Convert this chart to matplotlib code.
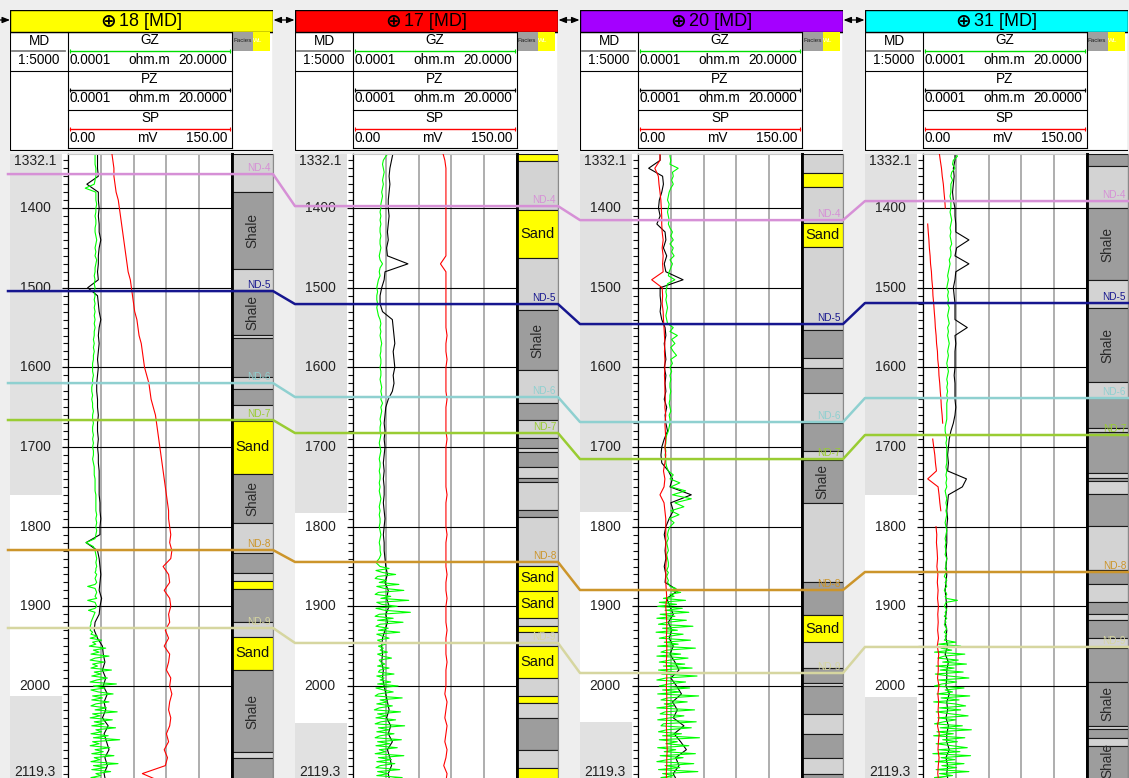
import numpy as np
import matplotlib
matplotlib.use("Agg")
import matplotlib.pyplot as plt
from matplotlib.patches import Rectangle
from matplotlib.ticker import MultipleLocator, FixedLocator

plt.rcParams['font.family'] = ['Liberation Sans', 'DejaVu Sans']

# ---------------------------------------------------------------- data
WELLS = ['18', '17', '20', '31']
TITLE_COLORS = ['#ffff00', '#ff0000', '#a400ff', '#00ffff']

TOP_DEPTH, BASE_DEPTH = 1332.1, 2119.3
DEPTH_10 = np.arange(1330, 2121, 10)          # PZ / SP sample depths (m)
DEPTH_GZ_UPPER = np.arange(1330, 1846, 5)     # GZ, 5 m steps
DEPTH_GZ_LOWER = np.arange(1850, 2120.1, 2.5) # GZ, 2.5 m steps

TOP_NAMES = ['ND-4', 'ND-5', 'ND-6', 'ND-7', 'ND-8', 'ND-9']
TOP_COLORS = ['#d690d6', '#16168f', '#8fd0d0', '#99cc33', '#cc952b', '#d6d6a0']
TOPS_18 = [1357.3, 1504.2, 1619.7, 1666.1, 1829.3, 1927.2]
TOPS_17 = [1397.5, 1520.5, 1637.2, 1682.4, 1844.3, 1946.0]
TOPS_20 = [1415.1, 1545.6, 1668.6, 1715.1, 1879.5, 1983.7]
TOPS_31 = [1391.2, 1519.2, 1638.5, 1684.9, 1856.9, 1951.0]

# grey depth-track intervals (top, base)
MD_SHADE_18 = [(1332.1, 1760.0), (2012.5, 2119.3)]
MD_SHADE_17 = [(1332.1, 1783.0), (2046.0, 2119.3)]
MD_SHADE_20 = [(1332.1, 1782.0), (2045.0, 2119.3)]
MD_SHADE_31 = [(1332.1, 1760.0), (2014.0, 2119.3)]

# GZ resistivity (ohm.m): upper interval 1330-1845 m
GZ_18_UPPER = [3.3, 3.3, 3.3, 3.3, 3.4, 3.4, 3.4, 3.3, 3.2, 2.1,
               3.4, 3.4, 3.4, 3.5, 3.4, 3.4, 3.3, 3.4, 3.4, 3.3,
               3.3, 3.4, 3.5, 3.4, 3.3, 3.4, 3.3, 3.5, 3.4, 3.3,
               3.3, 3.2, 3.3, 3.2, 3.3, 3.2, 3.3, 3.2, 3.3, 3.2,
               3.3, 3.2, 3.3, 3.2, 3.3, 3.2, 3.2, 3.1, 3.2, 3.1,
               3.2, 3.1, 3.1, 3.0, 3.0, 3.0, 3.1, 3.0, 3.0, 2.9,
               2.9, 3.0, 2.9, 3.0, 3.0, 3.1, 3.0, 3.0, 3.1, 3.0,
               3.0, 3.1, 3.0, 3.1, 3.0, 3.1, 3.1, 3.0, 3.1, 3.2,
               3.2, 3.2, 3.3, 3.3, 3.3, 3.3, 3.4, 3.4, 3.4, 3.4,
               3.4, 3.5, 3.4, 3.5, 3.4, 3.5, 3.4, 3.3, 2.2, 3.1,
               3.3, 3.4, 3.5, 3.4]
GZ_17_UPPER = [4.4, 4.0, 3.7, 3.6, 3.7, 3.8, 3.7, 3.6, 3.7, 3.6,
               3.5, 3.6, 3.5, 3.4, 3.4, 3.3, 3.4, 3.3, 3.4, 3.3,
               3.3, 3.4, 3.3, 3.3, 3.4, 3.3, 3.2, 3.3, 3.6, 3.3,
               3.2, 3.3, 3.1, 3.0, 2.9, 3.0, 2.9, 2.9, 3.0, 2.9,
               3.0, 3.1, 3.3, 3.4, 3.3, 3.4, 3.3, 3.4, 3.5, 3.4,
               3.4, 3.3, 3.4, 3.4, 3.3, 3.4, 3.4, 3.3, 3.4, 3.5,
               3.4, 3.5, 3.4, 3.6, 3.4, 3.5, 3.4, 3.3, 3.4, 3.3,
               3.3, 3.4, 3.3, 3.2, 3.3, 3.4, 3.3, 3.2, 3.3, 3.3,
               3.2, 3.3, 3.3, 3.2, 3.3, 3.2, 3.3, 3.4, 3.3, 3.2,
               3.3, 3.2, 3.3, 3.3, 3.2, 3.3, 3.4, 3.3, 3.2, 3.3,
               3.3, 3.4, 3.2, 2.8]
GZ_20_UPPER = [3.9, 3.9, 4.0, 3.9, 4.9, 4.2, 4.3, 4.1, 4.3, 4.0,
               3.8, 3.7, 3.6, 3.8, 3.7, 3.6, 3.7, 3.8, 3.7, 3.9,
               4.2, 4.0, 4.3, 3.9, 4.3, 4.1, 4.4, 3.9, 4.2, 4.0,
               3.8, 3.7, 4.5, 3.6, 3.5, 3.4, 3.5, 3.4, 3.5, 3.6,
               3.5, 3.4, 3.5, 3.6, 4.3, 3.9, 4.8, 4.1, 4.5, 4.0,
               4.3, 4.7, 4.0, 4.2, 3.9, 4.1, 3.9, 4.0, 3.9, 3.9,
               4.0, 3.9, 3.9, 3.8, 3.9, 4.0, 3.8, 3.9, 3.9, 3.8,
               3.7, 3.5, 3.4, 3.4, 3.3, 3.4, 3.3, 3.4, 3.4, 3.5,
               3.7, 4.3, 3.9, 5.1, 4.0, 5.8, 4.2, 6.5, 4.5, 5.6,
               4.0, 5.0, 3.8, 4.4, 3.9, 3.7, 3.6, 3.7, 3.5, 3.6,
               3.7, 3.5, 3.6, 3.7]
GZ_31_UPPER = [3.9, 4.2, 3.7, 3.6, 3.9, 3.5, 3.4, 3.6, 3.4, 3.4,
               3.4, 3.3, 3.4, 3.4, 3.4, 3.3, 3.4, 3.5, 3.4, 3.3,
               3.4, 3.3, 3.4, 3.5, 3.3, 3.4, 3.4, 3.2, 3.3, 3.2,
               3.1, 3.0, 3.1, 3.0, 2.9, 3.1, 3.0, 3.1, 3.0, 3.2,
               3.1, 3.0, 3.1, 3.2, 3.0, 3.1, 3.0, 3.1, 3.2, 3.1,
               3.0, 3.1, 3.0, 2.9, 3.0, 3.1, 3.0, 2.9, 3.0, 2.9,
               3.0, 2.9, 3.0, 2.9, 2.9, 2.9, 2.9, 2.9, 2.8, 2.7,
               2.7, 2.8, 2.9, 2.8, 2.9, 2.9, 2.9, 2.9, 2.9, 2.8,
               2.9, 2.8, 2.9, 2.8, 2.9, 2.7, 2.8, 2.9, 2.8, 2.9,
               2.8, 2.9, 2.8, 2.7, 2.8, 2.9, 2.8, 2.7, 2.8, 2.7,
               2.8, 2.7, 2.9, 2.8]

# GZ resistivity (ohm.m): lower interval 1850-2120 m
GZ_18_LOWER = [3.5, 3.4, 3.4, 3.3, 3.5, 3.4, 3.3, 3.4, 3.5, 3.3,
               2.4, 3.3, 3.4, 3.5, 3.4, 3.3, 3.5, 2.4, 3.3, 3.4,
               3.5, 3.3, 2.5, 3.3, 3.2, 3.1, 3.0, 2.9, 2.8, 2.8,
               2.7, 2.8, 2.7, 3.0, 2.8, 3.6, 2.7, 4.1, 3.0, 3.4,
               2.6, 4.6, 3.1, 3.8, 2.8, 5.0, 3.3, 2.7, 4.4, 3.0,
               3.6, 2.8, 5.3, 3.2, 4.0, 2.9, 4.8, 3.5, 2.7, 5.9,
               3.1, 4.5, 2.8, 3.7, 5.5, 3.0, 4.2, 2.9, 5.0, 3.4,
               2.8, 4.7, 3.3, 6.0, 3.0, 3.9, 2.7, 5.4, 3.2, 4.4,
               2.9, 5.8, 3.4, 4.1, 2.8, 4.9, 3.1, 6.3, 3.0, 3.8,
               2.7, 5.1, 3.3, 4.3, 2.9, 5.6, 3.2, 3.9, 2.8, 6.1,
               3.1, 4.6, 2.9, 5.2, 3.4, 4.0, 2.8, 5.5, 3.2]
GZ_17_LOWER = [3.3, 4.4, 2.8, 3.6, 5.2, 3.0, 2.7, 4.1, 3.2, 5.6,
               2.9, 3.8, 6.2, 3.1, 2.7, 4.6, 3.4, 6.8, 2.9, 3.5,
               5.4, 2.8, 3.9, 7.0, 3.2, 2.7, 4.9, 3.0, 6.1, 3.3,
               2.8, 4.3, 3.1, 5.7, 2.9, 3.6, 4.4, 3.0, 3.5, 4.0,
               3.1, 3.7, 3.3, 4.2, 3.0, 3.6, 4.7, 3.2, 3.4, 3.9,
               3.0, 4.4, 3.3, 3.1, 5.0, 2.9, 3.8, 3.3, 4.6, 3.0,
               5.5, 2.8, 3.7, 4.9, 3.1, 2.7, 6.0, 3.3, 4.2, 2.9,
               4.8, 3.2, 2.6, 5.8, 3.0, 4.1, 2.8, 5.2, 3.4, 2.7,
               6.3, 3.1, 4.4, 2.9, 5.0, 3.3, 2.7, 5.9, 3.0, 4.5,
               2.8, 5.4, 3.2, 4.0, 2.7, 6.2, 3.1, 4.7, 2.9, 5.1,
               3.3, 2.8, 5.7, 3.0, 4.3, 2.9, 6.0, 3.2, 4.8]
GZ_20_LOWER = [3.7, 3.6, 3.5, 3.7, 3.6, 3.5, 3.6, 3.7, 3.6, 3.8,
               3.9, 4.6, 3.8, 5.2, 3.9, 4.4, 3.1, 5.8, 2.6, 4.7,
               2.4, 5.4, 3.3, 6.2, 2.7, 4.5, 2.3, 5.9, 3.6, 2.5,
               6.7, 3.0, 4.8, 2.2, 5.5, 3.8, 2.6, 6.4, 3.2, 4.9,
               2.4, 7.0, 3.5, 2.8, 5.2, 2.3, 6.1, 3.9, 2.6, 5.7,
               3.1, 6.6, 2.5, 4.6, 2.9, 7.2, 3.4, 2.3, 5.8, 3.7,
               2.6, 6.3, 3.0, 5.1, 2.4, 7.4, 3.6, 2.8, 6.0, 3.2,
               4.4, 2.3, 6.9, 3.3, 2.7, 5.6, 3.9, 2.4, 7.1, 3.1,
               2.8, 6.5, 3.5, 2.5, 5.3, 3.0, 7.5, 2.6, 4.8, 3.4,
               6.2, 2.4, 4.6, 3.2, 7.0, 2.7, 5.5, 3.6, 2.3, 6.8,
               3.3, 5.1, 2.5, 7.3, 3.0, 4.4, 2.8, 6.6, 3.5]
GZ_31_LOWER = [2.8, 2.7, 2.9, 2.8, 2.7, 2.6, 2.8, 2.9, 2.7, 2.8,
               2.9, 2.7, 2.6, 2.8, 2.9, 2.7, 2.8, 4.2, 2.8, 2.7,
               2.6, 2.8, 2.9, 2.7, 2.8, 2.6, 2.9, 2.7, 2.8, 2.6,
               2.7, 2.9, 2.8, 2.6, 2.9, 2.7, 2.8, 2.6, 4.0, 1.9,
               4.6, 2.2, 3.5, 1.4, 5.1, 2.6, 1.8, 4.3, 2.4, 5.3,
               1.6, 3.8, 2.1, 4.9, 1.5, 3.2, 5.6, 1.9, 4.1, 2.3,
               1.4, 5.0, 2.7, 3.6, 1.7, 5.7, 2.2, 4.4, 1.3, 3.9,
               5.2, 2.0, 4.6, 1.6, 3.4, 5.5, 1.8, 4.0, 2.5, 1.4,
               4.8, 2.1, 5.9, 1.7, 3.7, 1.3, 5.1, 2.4, 4.2, 1.6,
               3.5, 5.4, 1.9, 4.5, 1.2, 5.8, 2.2, 3.9, 1.5, 5.0,
               2.3, 4.1, 1.6, 5.6, 2.0, 3.6, 1.4, 4.9, 2.6]

# PZ resistivity (ohm.m), 10 m steps
PZ_18 = [3.6, 3.6, 3.6, 3.7, 2.3, 3.7, 3.7, 3.8, 3.7, 3.8,
         3.8, 4.0, 3.8, 3.7, 3.7, 3.6, 3.7, 2.4, 3.6, 3.7,
         3.8, 4.0, 3.8, 3.7, 3.8, 3.7, 3.6, 3.7, 3.6, 3.5,
         3.5, 3.6, 3.6, 3.7, 3.6, 3.6, 3.7, 3.6, 3.7, 3.7,
         3.8, 3.8, 3.8, 3.8, 3.9, 3.9, 4.0, 3.9, 3.9, 2.2,
         3.6, 3.8, 3.9, 4.0, 3.9, 3.8, 4.1, 3.9, 3.8, 3.3,
         3.2, 3.6, 4.2, 4.3, 4.5, 4.2, 4.6, 4.3, 4.8, 4.4,
         4.6, 4.2, 4.9, 4.4, 4.7, 5.0, 4.5, 4.8, 4.4, 4.6]
PZ_17 = [4.9, 4.7, 4.5, 4.4, 4.5, 4.4, 4.3, 4.3, 4.4, 4.3,
         4.2, 4.3, 4.1, 4.2, 6.7, 3.9, 3.8, 3.5, 3.3, 3.3,
         3.6, 4.8, 4.9, 5.0, 5.1, 4.9, 5.0, 5.1, 4.9, 5.0,
         4.8, 4.3, 4.0, 3.9, 3.8, 3.9, 3.8, 3.9, 3.8, 3.7,
         3.8, 3.7, 3.8, 3.8, 3.7, 3.8, 3.9, 3.8, 3.7, 3.8,
         3.8, 3.9, 4.0, 4.2, 3.9, 4.3, 4.1, 4.4, 4.0, 4.2,
         3.9, 3.6, 3.5, 3.6, 3.5, 3.7, 3.6, 3.8, 4.0, 4.2,
         4.4, 4.1, 4.6, 4.3, 4.8, 4.2, 4.5, 4.7, 4.3, 4.5]
PZ_20 = [2.7, 2.7, 1.3, 3.0, 3.1, 2.9, 2.6, 2.5, 2.7, 2.3,
         3.3, 3.4, 3.1, 3.5, 3.2, 3.4, 5.5, 2.7, 2.7, 2.8,
         2.7, 2.9, 3.3, 3.4, 3.2, 3.3, 3.4, 3.2, 3.4, 3.3,
         3.4, 3.2, 3.5, 3.3, 3.4, 3.6, 3.2, 2.9, 2.8, 2.9,
         3.7, 4.2, 3.9, 6.5, 4.0, 4.3, 3.8, 3.4, 3.2, 3.4,
         3.3, 3.4, 3.2, 3.4, 3.3, 4.9, 3.5, 3.9, 4.3, 3.7,
         4.1, 3.8, 4.3, 3.9, 4.5, 5.0, 4.0, 4.7, 5.3, 4.2,
         4.8, 4.3, 5.6, 4.4, 5.2, 5.9, 4.6, 5.0, 4.3, 4.8]
PZ_31 = [3.9, 3.9, 3.7, 3.8, 3.7, 3.6, 3.7, 3.9, 3.9, 4.0,
         4.0, 5.6, 4.1, 3.9, 5.6, 4.0, 3.9, 3.7, 3.8, 3.9,
         3.9, 3.9, 5.4, 3.9, 4.0, 3.9, 3.9, 3.9, 3.8, 3.9,
         3.9, 3.9, 4.0, 3.9, 3.7, 3.4, 3.2, 3.1, 3.0, 3.1,
         3.0, 5.3, 4.8, 3.1, 3.0, 2.9, 3.0, 2.9, 2.9, 2.9,
         2.8, 2.9, 2.8, 2.9, 2.8, 2.7, 2.8, 2.9, 2.8, 2.7,
         2.9, 2.8, 3.0, 2.7, 3.1, 2.9, 2.9, 2.8, 3.2, 2.9,
         3.0, 2.8, 3.1, 2.9, 2.9, 3.2, 2.8, 3.0, 2.9, 3.1]

# SP (mV), 10 m steps; nan marks a break in the log
nan = float('nan')
SP_18 = [40, 41, 42, 42, 43, 44, 46, 47, 48, 49,
         50, 51, 52, 53, 54, 55, 57, 58, 59, 60,
         61, 63, 64, 65, 67, 68, 69, 70, 72, 74,
         75, 76, 78, 80, 81, 82, 83, 84, 85, 86,
         87, 88, 89, 90, 91, 92, 92, 93, 94, 93,
         95, 94, 87, 92, 93, 88, 93, 94, 92, 93,
         89, 92, 88, 93, 92, 90, 94, 93, 95, 93,
         92, 94, 93, 90, 92, 88, 91, 89, 68, 85]
SP_17 = [82, 84, 85, 85, 85, 85, 85, 85, 85, 85,
         85, 85, 85, 85, 80, 85, 85, 85, 85, 85,
         85, 85, 85, 86, 85, 85, 86, 85, 85, 85,
         85, 86, 85, 85, 85, 85, 86, 85, 85, 85,
         85, 85, 85, 86, 85, 85, 85, 85, 86, 85,
         85, 85, 85, 86, 85, 85, 86, 85, 85, 85,
         86, 85, 85, 85, 86, 85, 85, 85, 84, 86,
         85, 84, 86, 85, 84, 86, 85, 83, 86, 85]
SP_20 = [20.1, 20.1, 15.4, 18.6, 19.2, 20.1, 20.9, 21.3, 21.7, 21.7,
         22.1, 23.0, 22.1, 23.0, 22.5, 23.0, 12.5, 22.1, 22.5, 22.1,
         23.0, 23.3, 23.8, 24.2, 24.6, 24.2, 24.6, 24.6, 24.2, 24.6,
         24.6, 25.0, 24.6, 25.4, 24.6, 25.0, 25.4, 24.6, 25.4, 24.6,
         23.3, 24.6, 23.8, 20.1, 23.8, 24.6, 25.4, 25.4, 25.4, 25.4,
         25.4, 25.9, 25.4, 25.4, 25.4, 25.9, 26.3, 25.4, 25.9, 26.3,
         26.3, 25.9, 26.3, 26.3, 25.9, 26.3, 26.3, 25.9, 26.3, 26.3,
         26.3, 26.3, 25.9, 26.3, 26.3, 26.7, 26.3, 26.3, 25.9, 26.3]
SP_31 = [14.8, 15.8, 16.9, 17.6, 18.6, 19.2, 19.9, 20.4, nan, 4.3,
         4.8, 5.4, 5.8, 6.5, 6.9, 7.7, 8.1, 8.8, 9.1, 9.8,
         10.3, 10.9, 11.3, 12.0, 12.4, 13.2, 13.5, 14.3, 14.6, 15.3,
         15.8, 16.4, 16.8, 17.5, 18.0, nan, 8.9, 9.8, 10.8, 11.4,
         12.3, 4.3, 13.8, 14.7, 15.4, 16.3, nan, 11.9, 12.6, 12.3,
         12.9, 13.3, 12.7, 13.6, 13.1, 13.8, 13.3, 14.1, 13.5, 13.9,
         13.4, 14.2, 13.0, 14.4, 13.8, 14.0, 13.3, 14.6, 13.6, 14.3,
         13.8, 14.5, 13.3, 14.8, 14.1, 13.7, 14.7, 14.0, 13.5, 14.4]

# facies intervals: (top, base, class, label); L = silty shale, D = shale, S = sand
FACIES_18 = [
    (1332.1, 1380, 'L', ''), (1380, 1477, 'D', 'Shale'), (1477, 1503, 'L', ''),
    (1503, 1559, 'D', 'Shale'), (1559, 1563, 'L', ''), (1563, 1612, 'D', ''),
    (1612, 1627, 'L', ''), (1627, 1647, 'D', ''), (1647, 1667, 'L', ''),
    (1667, 1734, 'S', 'Sand'), (1734, 1795, 'D', 'Shale'), (1795, 1833, 'L', ''),
    (1833, 1858, 'D', ''), (1858, 1868, 'L', ''), (1868, 1878, 'S', ''),
    (1878, 1920, 'D', ''), (1920, 1938, 'L', ''), (1938, 1980, 'S', 'Sand'),
    (1980, 2083, 'D', 'Shale'), (2083, 2090, 'L', ''), (2090, 2119.3, 'D', '')]
FACIES_17 = [
    (1332.1, 1341, 'S', ''), (1341, 1402.5, 'L', ''), (1402.5, 1462.8, 'S', 'Sand'),
    (1462.8, 1528, 'L', ''), (1528, 1603.3, 'D', 'Shale'), (1603.3, 1644.8, 'L', ''),
    (1644.8, 1666.1, 'D', ''), (1666.1, 1688.7, 'L', ''), (1688.7, 1701.2, 'D', ''),
    (1701.2, 1706.3, 'L', ''), (1706.3, 1725.1, 'D', ''), (1725.1, 1738.9, 'L', ''),
    (1738.9, 1743.9, 'D', ''), (1743.9, 1779.1, 'L', ''), (1779.1, 1787.9, 'D', ''),
    (1787.9, 1849.4, 'L', ''), (1849.4, 1880.7, 'S', 'Sand'), (1880.7, 1914.6, 'S', 'Sand'),
    (1914.6, 1924.7, 'L', ''), (1924.7, 1932.2, 'S', ''), (1932.2, 1949.8, 'L', ''),
    (1949.8, 1989.9, 'S', 'Sand'), (1989.9, 2012.5, 'L', ''), (2012.5, 2021.3, 'S', ''),
    (2021.3, 2040.1, 'L', ''), (2040.1, 2080.3, 'D', ''), (2080.3, 2102.9, 'L', ''),
    (2102.9, 2119.3, 'S', '')]
FACIES_20 = [
    (1332.1, 1356.1, 'L', ''), (1356.1, 1373.6, 'S', ''), (1373.6, 1418.8, 'L', ''),
    (1418.8, 1449, 'S', 'Sand'), (1449, 1553.1, 'L', ''), (1553.1, 1588.3, 'D', ''),
    (1588.3, 1600.8, 'L', ''), (1600.8, 1632.2, 'D', ''), (1632.2, 1669.9, 'L', ''),
    (1669.9, 1705, 'D', ''), (1705, 1716.3, 'L', ''), (1716.3, 1770.3, 'D', 'Shale'),
    (1770.3, 1869.4, 'L', ''), (1869.4, 1910.9, 'D', ''), (1910.9, 1944.8, 'S', 'Sand'),
    (1944.8, 1977.4, 'L', ''), (1977.4, 1996.2, 'D', ''), (1996.2, 2000, 'L', ''),
    (2000, 2035.1, 'D', ''), (2035.1, 2060.2, 'L', ''), (2060.2, 2090.4, 'D', ''),
    (2090.4, 2110.5, 'L', ''), (2110.5, 2119.3, 'D', '')]
FACIES_31 = [
    (1332.1, 1347.3, 'D', ''), (1347.3, 1400, 'L', ''), (1400, 1490.4, 'D', 'Shale'),
    (1490.4, 1525.5, 'L', ''), (1525.5, 1618.4, 'D', 'Shale'), (1618.4, 1638.5, 'L', ''),
    (1638.5, 1676.1, 'D', ''), (1676.1, 1681.2, 'L', ''), (1681.2, 1732.6, 'D', ''),
    (1732.6, 1738.9, 'L', ''), (1738.9, 1742.7, 'D', ''), (1742.7, 1759, 'L', ''),
    (1759, 1799.2, 'D', ''), (1799.2, 1854.4, 'L', ''), (1854.4, 1872, 'D', ''),
    (1872, 1894.5, 'L', ''), (1894.5, 1909.6, 'D', ''), (1909.6, 1917.1, 'L', ''),
    (1917.1, 1939.7, 'D', ''), (1939.7, 1952.3, 'L', ''), (1952.3, 1995, 'D', ''),
    (1995, 2050.2, 'D', 'Shale'), (2050.2, 2054, 'L', ''), (2054, 2065.3, 'D', ''),
    (2065.3, 2075.3, 'L', ''), (2075.3, 2119.3, 'D', 'Shale')]

GZ_UPPER = [GZ_18_UPPER, GZ_17_UPPER, GZ_20_UPPER, GZ_31_UPPER]
GZ_LOWER = [GZ_18_LOWER, GZ_17_LOWER, GZ_20_LOWER, GZ_31_LOWER]
PZ = [PZ_18, PZ_17, PZ_20, PZ_31]
SP = [SP_18, SP_17, SP_20, SP_31]
TOPS = [TOPS_18, TOPS_17, TOPS_20, TOPS_31]
FACIES = [FACIES_18, FACIES_17, FACIES_20, FACIES_31]
MD_SHADE = [MD_SHADE_18, MD_SHADE_17, MD_SHADE_20, MD_SHADE_31]

for arr in GZ_UPPER:
    assert len(arr) == len(DEPTH_GZ_UPPER), len(arr)
for arr in GZ_LOWER:
    assert len(arr) == len(DEPTH_GZ_LOWER), len(arr)
for arr in PZ + SP:
    assert len(arr) == len(DEPTH_10), len(arr)
GZ_DEPTH = np.concatenate([DEPTH_GZ_UPPER, DEPTH_GZ_LOWER])

# ---------------------------------------------------------------- layout (pixels)
W, H = 1129, 778
BG = '#eeeeee'
WELL_X = [10, 295, 580, 865]
MD_W, CURVE_W, FAC_W = 58, 164, 41
WELL_W = MD_W + CURVE_W + FAC_W
TRACK_TOP, TRACK_BOT = 154, 781
FACIES_COLORS = {'L': '#d3d3d3', 'D': '#9d9d9d', 'S': '#ffff00'}
GZ_RANGE = (0.0001, 20.0)
SP_RANGE = (0.0, 150.0)
HDR_FS = 9.8

fig = plt.figure(figsize=(W / 100, H / 100), dpi=100, facecolor=BG)


def px_axes(x0, y0, x1, y1, **kw):
    return fig.add_axes((x0 / W, 1 - y1 / H, (x1 - x0) / W, (y1 - y0) / H), **kw)


def depth_axes(ax):
    ax.set_ylim(BASE_DEPTH, TOP_DEPTH)
    ax.set_xticks([])
    ax.set_yticks([])


def draw_header(x0, name, color):
    hx = px_axes(x0, 10, x0 + WELL_W, 151)
    hx.set_xlim(0, WELL_W)
    hx.set_ylim(141, 0)
    hx.axis('off')
    hx.add_patch(Rectangle((0, 22), WELL_W, 118, fc='white', ec='black', lw=0.8))
    hx.add_patch(Rectangle((0, 0), WELL_W, 22, fc=color, ec='black', lw=1.0))
    hx.text(98.5, 11.5, '\u2295', family='DejaVu Sans', fontsize=13.5, fontweight='bold',
            ha='center', va='center')
    hx.text(109, 12, f'{name} [MD]', fontsize=13, ha='left', va='center')
    # depth column
    hx.text(29, 31, 'MD', fontsize=HDR_FS, ha='center', va='center')
    hx.plot([2, 55], [41, 41], color='#7f7f7f', lw=1.3)
    hx.text(29, 50, '1:5000', fontsize=HDR_FS, ha='center', va='center')
    hx.plot([0, MD_W], [60.5, 60.5], color='black', lw=0.8)
    # curve header boxes
    c0, c1 = MD_W, MD_W + CURVE_W
    hx.plot([c0, c0], [22, 138], color='black', lw=0.8)
    hx.plot([c1, c1], [22, 138], color='black', lw=0.8)
    for yy in (60.5, 100, 138):
        hx.plot([c0, c1], [yy, yy], color='black', lw=0.8)
    rows = [('GZ', '#00dd00', 22, ('0.0001', 'ohm.m', '20.0000')),
            ('PZ', 'black', 60.5, ('0.0001', 'ohm.m', '20.0000')),
            ('SP', '#ff0000', 100, ('0.00', 'mV', '150.00'))]
    for label, col, ytop, (lo, unit, hi) in rows:
        hx.text(140, ytop + 8.5, label, fontsize=HDR_FS, ha='center', va='center')
        hx.plot([c0 + 1.5, c1 - 2.5], [ytop + 19, ytop + 19], color=col, lw=1.0)
        hx.plot([c0 + 1.5, c1 - 2.5], [ytop + 19, ytop + 19], ls='none', marker='|',
                ms=3, mew=0.8, color=col)
        hx.text(c0 + 1.5, ytop + 28, lo, fontsize=HDR_FS, ha='left', va='center')
        hx.text(139 if unit == 'ohm.m' else 137, ytop + 28, unit, fontsize=HDR_FS,
                ha='center', va='center')
        hx.text(c1 - 5, ytop + 28, hi, fontsize=HDR_FS, ha='right', va='center')
    # facies header
    hx.add_patch(Rectangle((c1, 22), 20.5, 18.5, fc='#a0a0a0', ec='none'))
    hx.add_patch(Rectangle((c1 + 20.5, 22), 17.5, 18.5, fc='#ffff00', ec='none'))
    hx.text(c1 + 1, 31, 'Facies', fontsize=4.5, ha='left', va='center', color='#222222')
    hx.text(c1 + 21, 31, 'WL', fontsize=4.5, ha='left', va='center', color='white')


for i, name in enumerate(WELLS):
    x0 = WELL_X[i]
    xc = x0 + MD_W
    xf = xc + CURVE_W
    xe = xf + FAC_W
    draw_header(x0, name, TITLE_COLORS[i])

    # ---- depth track
    dx = px_axes(x0, TRACK_TOP, xc, TRACK_BOT, facecolor='white')
    depth_axes(dx)
    dx.set_xlim(0, 1)
    for top, base in MD_SHADE[i]:
        dx.axhspan(top, base, xmin=0, xmax=0.9, color='#e1e1e1', lw=0)
    dx.yaxis.set_major_locator(FixedLocator(list(range(1400, 2001, 100))))
    dx.yaxis.set_minor_locator(MultipleLocator(10))
    dx.yaxis.tick_right()
    dx.tick_params(axis='y', which='major', direction='in', length=4.6, width=0.9,
                   labelright=False, color='black')
    dx.tick_params(axis='y', which='minor', direction='in', length=3.8, width=0.8,
                   color='#111111')
    for side in ('left', 'top', 'bottom'):
        dx.spines[side].set_visible(False)
    dx.spines['right'].set_linewidth(0.8)
    for d in range(1400, 2001, 100):
        dx.text(0.43, d, str(d), fontsize=10, ha='center', va='center', color='#222222')
    dx.text(0.43, 1341, f'{TOP_DEPTH:.1f}', fontsize=10, ha='center', va='center',
            color='#222222')
    dx.text(0.43, 2108, f'{BASE_DEPTH:.1f}', fontsize=10, ha='center', va='center',
            color='#222222')

    # ---- log curves
    cx = px_axes(xc, TRACK_TOP, xf, TRACK_BOT, facecolor='white')
    cx.set_ylim(BASE_DEPTH, TOP_DEPTH)
    cx.set_xlim(*GZ_RANGE)
    cx.set_xticks([4, 8, 12, 16])
    cx.set_yticks(list(range(1400, 2001, 100)))
    cx.tick_params(length=0, labelbottom=False, labelleft=False)
    cx.grid(axis='x', color='#a8a8a8', lw=1.3)
    cx.grid(axis='y', color='black', lw=0.8)
    cx.set_axisbelow(True)
    cx.spines['top'].set_color('#c8c8c8')
    cx.spines['bottom'].set_visible(False)
    cx.spines['left'].set_linewidth(0.9)
    cx.spines['right'].set_linewidth(2.0)
    cx.plot(PZ[i], DEPTH_10, color='black', lw=0.8)
    cx.plot(GZ_UPPER[i] + GZ_LOWER[i], GZ_DEPTH, color='#00ff00', lw=0.8)
    sx = cx.twiny()
    sx.set_xlim(*SP_RANGE)
    sx.set_ylim(BASE_DEPTH, TOP_DEPTH)
    sx.axis('off')
    sx.plot(SP[i], DEPTH_10, color='#ff0000', lw=0.8)

    # ---- facies column
    fx = px_axes(xf, TRACK_TOP, xe, TRACK_BOT, facecolor='white')
    depth_axes(fx)
    fx.set_xlim(0, 1)
    for top, base, cls, label in FACIES[i]:
        fx.bar(0.5, base - top, bottom=top, width=1.0, color=FACIES_COLORS[cls],
               edgecolor='#1a1a1a', lw=0.8)
        mid = 0.5 * (top + base)
        if label == 'Shale':
            # keep the lowest label inside the visible part of the column
            mid = min(mid, 2094)
            fx.text(0.5, mid, 'Shale', rotation=90, fontsize=9.8, ha='center',
                    va='center', color='#2a2a2a')
        elif label == 'Sand':
            fx.text(0.5, mid, 'Sand', fontsize=10.5, ha='center', va='center',
                    color='#111111')
    fx.spines['left'].set_linewidth(2.0)
    fx.spines['right'].set_color('#8a8a8a')
    fx.spines['top'].set_visible(False)
    fx.spines['bottom'].set_visible(False)

# ---------------------------------------------------------------- correlation of tops
ox = px_axes(0, TRACK_TOP, W, TRACK_BOT)
ox.set_xlim(0, W)
ox.set_ylim(BASE_DEPTH, TOP_DEPTH)
ox.axis('off')
ox.patch.set_visible(False)
for j, (tname, tcol) in enumerate(zip(TOP_NAMES, TOP_COLORS)):
    xs, ds = [], []
    for i, x0 in enumerate(WELL_X):
        xs += [x0 - 2 if i == 0 else x0, x0 + WELL_W]
        ds += [TOPS[i][j], TOPS[i][j]]
    ox.plot(xs, ds, color=tcol, lw=1.8, solid_joinstyle='round')
    for i, x0 in enumerate(WELL_X):
        ox.annotate(tname, xy=(x0 + WELL_W - 2, TOPS[i][j]), xytext=(0, 0.8),
                    textcoords='offset points', ha='right', va='bottom',
                    fontsize=7.2, color=tcol)

# ---------------------------------------------------------------- links between well headers
lx = fig.add_axes((0, 0, 1, 1))
lx.set_xlim(0, W)
lx.set_ylim(H, 0)
lx.axis('off')
lx.patch.set_visible(False)
for i in range(len(WELL_X) - 1):
    lx.annotate('', xy=(WELL_X[i] + WELL_W + 0.5, 20), xytext=(WELL_X[i + 1] - 0.5, 20),
                arrowprops=dict(arrowstyle='<|-|>,head_length=0.45,head_width=0.18',
                                color='black', lw=0.9, shrinkA=0, shrinkB=0))
lx.annotate('', xy=(WELL_X[0], 20), xytext=(0, 20),
            arrowprops=dict(arrowstyle='-|>,head_length=0.45,head_width=0.18',
                            color='black', lw=0.9, shrinkA=0, shrinkB=0))

fig.savefig('out.png', dpi=100, facecolor=BG)
